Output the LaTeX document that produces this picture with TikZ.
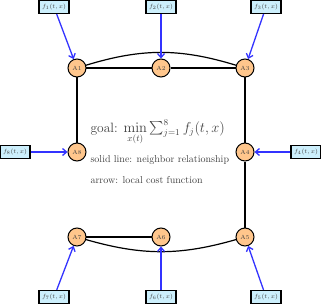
\documentclass[tikz,border=0pt]{standalone}
\usepackage{amssymb,amsmath}
\usepackage{xcolor}
\usepackage{tikz}
\usetikzlibrary{arrows.meta, positioning, calc}

\begin{document}
\begin{tikzpicture}[x=1pt, y=1pt, on grid,
        % Define styles for the nodes
        agent_node/.style={circle, draw=black, line width=1pt, fill=orange!45, minimum size=18pt, inner sep=0pt, font=\fontsize{6}{7}\selectfont, text=black!75},
        cost_node/.style={rectangle, draw=black, line width=1.2pt, fill=cyan!20, minimum width=30pt, minimum height=13pt, inner sep=1.5pt, font=\fontsize{6}{7}\selectfont, text=black!75},
        note_node/.style={align=left, anchor=west, text=black!75},
        % Styles for connectors
        link/.style={line width=1.2pt, black},
        cost_arrow/.style={-{Straight Barb[length=4pt, width=7pt]}, line width=1.3pt, blue!80}
    ]

    \useasboundingbox (-77,68) rectangle (244,-237);

    % =========================================================================
    % AGENTS
    % =========================================================================
    \node (a1) [agent_node] at (0,0) {A1};
    \node (a2) [agent_node, right=84pt of a1] {A2};
    \node (a3) [agent_node, right=84pt of a2] {A3};
    \node (a8) [agent_node, below=84pt of a1] {A8};
    \node (a4) [agent_node, below=84pt of a3] {A4};
    \node (a7) [agent_node, below=85pt of a8] {A7};
    \node (a6) [agent_node, right=84pt of a7] {A6};
    \node (a5) [agent_node, below=85pt of a4] {A5};

    % =========================================================================
    % NEIGHBOR RELATIONSHIPS
    % =========================================================================
    \draw [link] (a1) -- (a2);
    \draw [link] (a2) -- (a3);
    \draw [link] (a1) to[bend left=17] (a3);
    \draw [link] (a1) -- (a8);
    \draw [link] (a3) -- (a4);
    \draw [link] (a4) -- (a5);
    \draw [link] (a7) -- (a6);
    \draw [link] (a7) to[bend right=16] (a5);

    % =========================================================================
    % LOCAL COST FUNCTIONS
    % =========================================================================
    \node (f1) [cost_node] at (-23,61) {$f_1(t,x)$};
    \node (f2) [cost_node] at (84,61) {$f_2(t,x)$};
    \node (f3) [cost_node] at (189,61) {$f_3(t,x)$};
    \node (f4) [cost_node] at (229,-84) {$f_4(t,x)$};
    \node (f5) [cost_node] at (189,-229) {$f_5(t,x)$};
    \node (f6) [cost_node] at (84,-229) {$f_6(t,x)$};
    \node (f7) [cost_node] at (-23,-229) {$f_7(t,x)$};
    \node (f8) [cost_node] at (-62,-84) {$f_8(t,x)$};

    \draw [cost_arrow] (f1) -- (a1);
    \draw [cost_arrow] (f2) -- (a2);
    \draw [cost_arrow] (f3) -- (a3);
    \draw [cost_arrow] (f4) -- (a4);
    \draw [cost_arrow] (f5) -- (a5);
    \draw [cost_arrow] (f6) -- (a6);
    \draw [cost_arrow] (f7) -- (a7);
    \draw [cost_arrow] (f8) -- (a8);

    % =========================================================================
    % NOTES
    % =========================================================================
    \node (goal) [note_node, font=\fontsize{13.5}{16}\selectfont] at (10,-64) {goal: $\min\limits_{x(t)} \sum_{j=1}^{8} f_j(t,x)$};
    \node (note_line) [note_node, font=\normalsize] at (10,-92) {solid line: neighbor relationship};
    \node (note_arrow) [note_node, font=\normalsize] at (10,-112) {arrow: local cost function};

\end{tikzpicture}
\end{document}
